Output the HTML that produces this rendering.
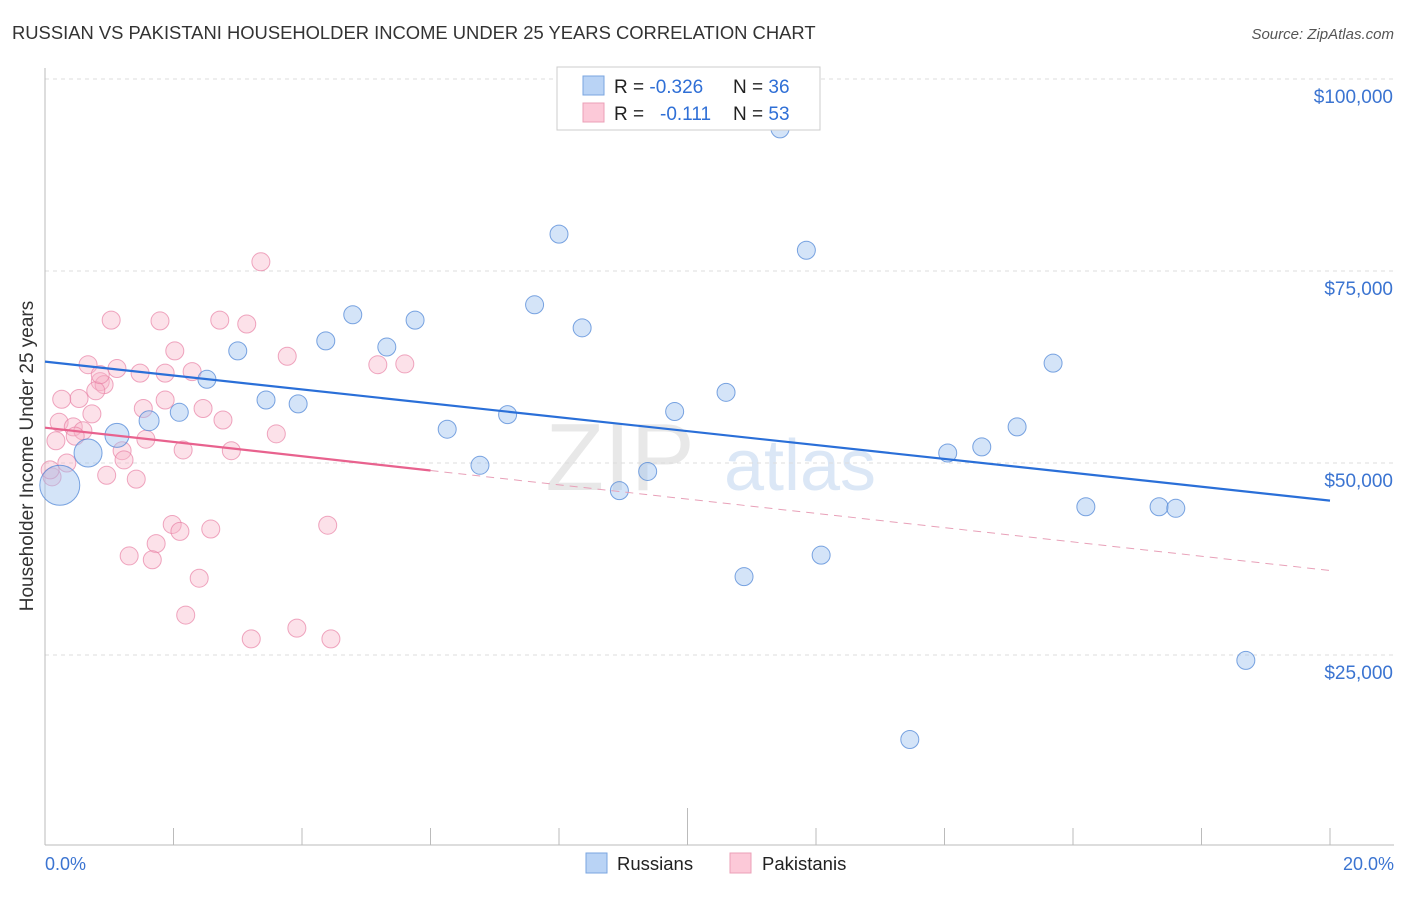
<!DOCTYPE html>
<html><head><meta charset="utf-8"><style>
body{margin:0;background:#fff;font-family:"Liberation Sans",sans-serif;}
svg text{font-family:"Liberation Sans",sans-serif;}
</style></head><body>
<svg id="c" width="1406" height="892">
<text x="12" y="39" font-size="18.4" fill="#333">RUSSIAN VS PAKISTANI HOUSEHOLDER INCOME UNDER 25 YEARS CORRELATION CHART</text>
<text x="1394" y="39" font-size="15" fill="#555" font-style="italic" text-anchor="end">Source: ZipAtlas.com</text>
<text x="33" y="456" font-size="19" fill="#333" text-anchor="middle" transform="rotate(-90 33 456)">Householder Income Under 25 years</text>
<text x="620" y="490" font-size="96" fill="#e8e8e8" font-family="Liberation Serif" text-anchor="middle">ZIP</text>
<text x="800" y="490" font-size="72" fill="#dbe7f6" text-anchor="middle">atlas</text>
<g id="grid"></g><g id="marks"></g>
<g>
<rect x="557" y="67" width="263" height="63" fill="#fff" stroke="#ccc"/>
<rect x="583" y="76" width="21" height="19" fill="#b9d3f5" stroke="#7aa6e0"/>
<rect x="583" y="103" width="21" height="19" fill="#fcc9d8" stroke="#eba0b7"/>
<text x="614" y="93" font-size="19" fill="#222">R = <tspan fill="#2f6fd6">-0.326</tspan><tspan x="733">N = </tspan><tspan fill="#2f6fd6">36</tspan></text>
<text x="614" y="120" font-size="19" fill="#222">R = <tspan x="660" fill="#2f6fd6">-0.111</tspan><tspan x="733">N = </tspan><tspan fill="#2f6fd6">53</tspan></text>
</g>
<g>
<rect x="586" y="853" width="21" height="20" fill="#b9d3f5" stroke="#7aa6e0"/>
<text x="617" y="870" font-size="18.5" fill="#222">Russians</text>
<rect x="730" y="853" width="21" height="20" fill="#fcc9d8" stroke="#eba0b7"/>
<text x="762" y="870" font-size="18.5" fill="#222">Pakistanis</text>
</g>
</svg>
<script>
const yTicks=[25000,50000,75000,100000];
const yTickLabels=["$25,000","$50,000","$75,000","$100,000"];
const xTickLabels=["0.0%","20.0%"];
const rusX=[11.44,8.0,11.85,7.62,4.79,8.36,5.76,4.37,5.32,3.0,2.52,15.69,10.6,3.44,3.94,2.09,1.62,7.2,9.8,6.26,15.13,1.12,0.67,14.05,14.58,0.23,6.77,9.38,8.94,16.2,17.34,17.6,12.08,10.88,18.69,13.46];
const rusY=[93500,79800,77700,70600,69300,67600,68600,65900,65100,64600,60900,63000,59200,58200,57700,56600,55500,56300,56700,54400,54700,53600,51300,51300,52100,47100,49700,48900,46400,44300,44300,44100,38000,35200,24300,14000];
const rusR=[9,9,9,9,9,9,9,9,9,9,9,9,9,9,9,9,10,9,9,9,9,12,14,9,9,20,9,9,9,9,9,9,9,9,9,9];
const pakX=[3.36,1.03,1.79,2.72,3.14,3.77,0.67,1.12,1.48,1.87,2.29,5.18,5.6,2.02,0.86,0.92,0.79,0.53,0.26,1.53,2.46,1.87,0.73,2.77,0.22,0.44,0.59,0.47,1.57,0.17,1.2,2.15,2.9,3.6,0.34,1.23,0.96,1.42,0.11,0.08,1.98,2.1,2.58,1.73,1.31,1.67,2.4,4.4,2.19,3.92,3.21,4.45,0.86];
const pakY=[76200,68600,68500,68600,68100,63900,62800,62300,61700,61700,61900,62800,62900,64600,60600,60200,59400,58400,58300,57100,57100,58200,56400,55600,55300,54700,54200,53500,53100,52900,51600,51700,51600,53800,50000,50400,48400,47900,48200,49100,42000,41100,41400,39500,37900,37400,35000,41900,30200,28500,27100,27100,61500];
const rusTrend=[63200,45100];
const pakTrend=[54600,36000];
const X0=45,X1=1330,Y25=655,PX=192/25000;
const xs=v=>X0+v/20*(X1-X0);
const ys=v=>Y25-(v-25000)*PX;
const NS="http://www.w3.org/2000/svg";
function mk(parent,tag,attrs){const e=document.createElementNS(NS,tag);for(const k in attrs)e.setAttribute(k,attrs[k]);document.getElementById(parent).appendChild(e);return e;}
yTicks.forEach((t,i)=>{
  const g=mk('grid','line',{x1:45,x2:1394,y1:ys(t),y2:ys(t),stroke:'#ddd','stroke-dasharray':'4,4'});
  
  
  const tx=mk('grid','text',{x:1393,y:ys(t)+24,'font-size':19,fill:'#3b74d1','text-anchor':'end'});
  tx.textContent=yTickLabels[i];
  
  
});
const ax=mk('grid','line',{x1:45,x2:45,y1:68,y2:845,stroke:'#bbb'});


const bx=mk('grid','line',{x1:45,x2:1394,y1:845,y2:845,stroke:'#bbb'});


for(let i=0;i<=10;i++){
  const t=mk('grid','line',{x1:xs(i*2),x2:xs(i*2),y1:i==5?808:828,y2:845,stroke:'#bbb'});
  
  
}
xTickLabels.forEach((l,i)=>{
  const t=mk('grid','text',{x:i?1394:45,y:870,'font-size':18,fill:'#3b74d1','text-anchor':i?'end':'start'});
  t.textContent=l;
  
  
});
pakX.forEach((x,i)=>{
  const c=mk('marks','circle',{cx:xs(x),cy:ys(pakY[i]),r:9,fill:'rgba(248,180,200,0.4)',stroke:'rgba(232,130,165,0.7)','stroke-width':1});
  
  
});
rusX.forEach((x,i)=>{
  const c=mk('marks','circle',{cx:xs(x),cy:ys(rusY[i]),r:rusR[i],fill:'rgba(160,195,240,0.45)',stroke:'rgba(80,135,215,0.75)','stroke-width':1});
  
  
});
const rl=mk('marks','line',{x1:xs(0),y1:ys(rusTrend[0]),x2:xs(20),y2:ys(rusTrend[1]),stroke:'#2a6fd8','stroke-width':2.2});


const pm=v=>pakTrend[0]+(pakTrend[1]-pakTrend[0])*v/20;
const pl=mk('marks','line',{x1:xs(0),y1:ys(pakTrend[0]),x2:xs(6),y2:ys(pm(6)),stroke:'#e8628e','stroke-width':2.2});


const pd=mk('marks','line',{x1:xs(6),y1:ys(pm(6)),x2:xs(20),y2:ys(pakTrend[1]),stroke:'#e8a0b8','stroke-width':1,'stroke-dasharray':'8,6'});


</script>
</body></html>
